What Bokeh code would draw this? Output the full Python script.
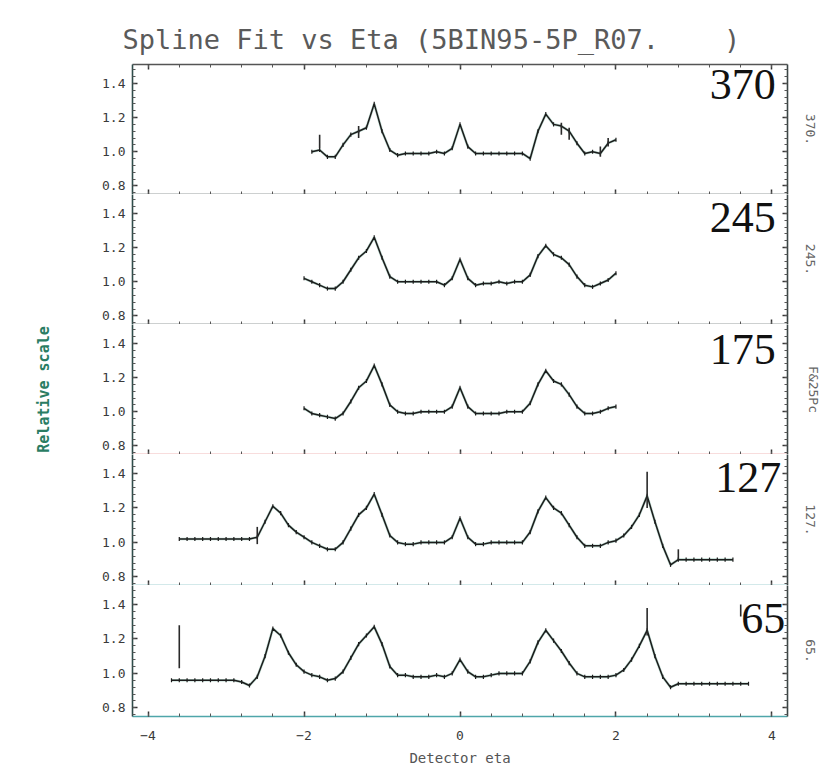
from bokeh.plotting import figure
from bokeh.models import (LinearAxis, Range1d, Label, SingleIntervalTicker,
                          PrintfTickFormatter, ColumnDataSource)
from bokeh.layouts import column
from bokeh.embed import file_html
from bokeh.resources import INLINE

# ---- relative scale vs detector eta, one series per bin ----
eta_370 = [-1.9, -1.8, -1.7, -1.6, -1.5, -1.4, -1.3, -1.2, -1.1, -1.0,
           -0.9, -0.8, -0.7, -0.6, -0.5, -0.4, -0.3, -0.2, -0.1, 0.0,
           0.1, 0.2, 0.3, 0.4, 0.5, 0.6, 0.7, 0.8, 0.9, 1.0,
           1.1, 1.2, 1.3, 1.4, 1.5, 1.6, 1.7, 1.8, 1.9, 2.0]
rel_370 = [1.00, 1.01, 0.97, 0.97, 1.04, 1.10, 1.12, 1.14, 1.28, 1.12,
           1.01, 0.98, 0.99, 0.99, 0.99, 0.99, 1.00, 0.99, 1.02, 1.16,
           1.03, 0.99, 0.99, 0.99, 0.99, 0.99, 0.99, 0.99, 0.96, 1.12,
           1.22, 1.16, 1.15, 1.12, 1.05, 0.99, 1.00, 0.99, 1.05, 1.07]

eta_245 = [-2.0, -1.9, -1.8, -1.7, -1.6, -1.5, -1.4, -1.3, -1.2, -1.1,
           -1.0, -0.9, -0.8, -0.7, -0.6, -0.5, -0.4, -0.3, -0.2, -0.1,
           0.0, 0.1, 0.2, 0.3, 0.4, 0.5, 0.6, 0.7, 0.8, 0.9,
           1.0, 1.1, 1.2, 1.3, 1.4, 1.5, 1.6, 1.7, 1.8, 1.9, 2.0]
rel_245 = [1.02, 1.00, 0.98, 0.96, 0.96, 1.00, 1.07, 1.14, 1.18, 1.26,
           1.14, 1.03, 1.00, 1.00, 1.00, 1.00, 1.00, 1.00, 0.98, 1.02,
           1.13, 1.02, 0.98, 0.99, 0.99, 1.00, 0.99, 1.00, 1.00, 1.04,
           1.15, 1.21, 1.16, 1.14, 1.10, 1.03, 0.98, 0.97, 0.99, 1.01, 1.05]

eta_175 = list(eta_245)
rel_175 = [1.02, 0.99, 0.98, 0.97, 0.96, 0.99, 1.06, 1.14, 1.18, 1.27,
           1.16, 1.04, 1.00, 0.99, 0.99, 1.00, 1.00, 1.00, 1.00, 1.03,
           1.14, 1.03, 0.99, 0.99, 0.99, 0.99, 1.00, 1.00, 1.00, 1.05,
           1.16, 1.24, 1.18, 1.16, 1.10, 1.03, 0.99, 0.99, 1.00, 1.02, 1.03]

eta_127 = [-3.6, -3.5, -3.4, -3.3, -3.2, -3.1, -3.0, -2.9, -2.8, -2.7,
           -2.6, -2.5, -2.4, -2.3, -2.2, -2.1, -2.0, -1.9, -1.8, -1.7,
           -1.6, -1.5, -1.4, -1.3, -1.2, -1.1, -1.0, -0.9, -0.8, -0.7,
           -0.6, -0.5, -0.4, -0.3, -0.2, -0.1, 0.0, 0.1, 0.2, 0.3,
           0.4, 0.5, 0.6, 0.7, 0.8, 0.9, 1.0, 1.1, 1.2, 1.3,
           1.4, 1.5, 1.6, 1.7, 1.8, 1.9, 2.0, 2.1, 2.2, 2.3,
           2.4, 2.5, 2.6, 2.7, 2.8, 2.9, 3.0, 3.1, 3.2, 3.3, 3.4, 3.5]
rel_127 = [1.02, 1.02, 1.02, 1.02, 1.02, 1.02, 1.02, 1.02, 1.02, 1.02,
           1.03, 1.12, 1.21, 1.17, 1.10, 1.06, 1.03, 1.00, 0.98, 0.96,
           0.96, 1.00, 1.08, 1.16, 1.20, 1.28, 1.16, 1.04, 1.00, 0.99,
           0.99, 1.00, 1.00, 1.00, 1.00, 1.03, 1.14, 1.03, 0.99, 0.99,
           1.00, 1.00, 1.00, 1.00, 1.00, 1.06, 1.18, 1.26, 1.20, 1.17,
           1.10, 1.03, 0.98, 0.98, 0.98, 1.00, 1.01, 1.04, 1.09, 1.16,
           1.27, 1.12, 0.98, 0.87, 0.90, 0.90, 0.90, 0.90, 0.90, 0.90, 0.90, 0.90]

eta_65 = [-3.7, -3.6, -3.5, -3.4, -3.3, -3.2, -3.1, -3.0, -2.9, -2.8,
          -2.7, -2.6, -2.5, -2.4, -2.3, -2.2, -2.1, -2.0, -1.9, -1.8,
          -1.7, -1.6, -1.5, -1.4, -1.3, -1.2, -1.1, -1.0, -0.9, -0.8,
          -0.7, -0.6, -0.5, -0.4, -0.3, -0.2, -0.1, 0.0, 0.1, 0.2,
          0.3, 0.4, 0.5, 0.6, 0.7, 0.8, 0.9, 1.0, 1.1, 1.2,
          1.3, 1.4, 1.5, 1.6, 1.7, 1.8, 1.9, 2.0, 2.1, 2.2,
          2.3, 2.4, 2.5, 2.6, 2.7, 2.8, 2.9, 3.0, 3.1, 3.2,
          3.3, 3.4, 3.5, 3.6, 3.7]
rel_65 = [0.96, 0.96, 0.96, 0.96, 0.96, 0.96, 0.96, 0.96, 0.96, 0.95,
          0.93, 0.98, 1.10, 1.26, 1.22, 1.12, 1.05, 1.01, 0.99, 0.98,
          0.96, 0.97, 1.01, 1.09, 1.17, 1.22, 1.27, 1.17, 1.04, 0.99,
          0.99, 0.98, 0.98, 0.98, 0.99, 0.98, 1.00, 1.08, 1.01, 0.98,
          0.98, 0.99, 1.00, 1.00, 1.00, 1.00, 1.07, 1.18, 1.25, 1.19,
          1.13, 1.06, 1.00, 0.98, 0.98, 0.98, 0.98, 0.99, 1.02, 1.08,
          1.16, 1.25, 1.10, 0.98, 0.92, 0.94, 0.94, 0.94, 0.94, 0.94,
          0.94, 0.94, 0.94, 0.94, 0.94]

# large error bars (eta, low, high)
err_370 = [(-1.8, 1.02, 1.10), (-1.3, 1.08, 1.15), (1.3, 1.10, 1.17),
           (1.4, 1.07, 1.14), (1.8, 0.97, 1.03), (1.9, 1.03, 1.08)]
err_245 = []
err_175 = []
err_127 = [(-2.6, 0.99, 1.09), (2.4, 1.20, 1.41), (2.8, 0.90, 0.96)]
err_65 = [(-3.6, 1.03, 1.28), (2.4, 1.22, 1.38), (3.6, 1.33, 1.40)]

bins = ["370", "245", "175", "127", "65"]
side_labels = ["370.", "245.", "F&25Pc", "127.", "65."]
series = [(eta_370, rel_370, err_370), (eta_245, rel_245, err_245),
          (eta_175, rel_175, err_175), (eta_127, rel_127, err_127),
          (eta_65, rel_65, err_65)]

FRAME_W = 655
frame_heights = [130, 130, 130, 131, 131]
bottom_colors = ["#3b4545", "#3b4545", "#e27878", "#4fa6aa", "#4fa6aa"]
number_pos = [(4.05, 1.48), (4.05, 1.46), (4.05, 1.45), (4.12, 1.46), (4.17, 1.40)]
MONO = "DejaVu Sans Mono"
NBSP = "\u00a0"


def hide_labels(ax):
    # keep the ticks, do not draw tick labels
    ax.major_label_text_font_size = "1px"
    ax.major_label_text_color = None
    ax.major_label_standoff = 0


x_range = Range1d(-4.2, 4.2)
figs = []
for i, ((eta, rel, errs), name) in enumerate(zip(series, bins)):
    last = i == len(bins) - 1
    p = figure(frame_width=FRAME_W, frame_height=frame_heights[i],
               x_range=x_range, y_range=Range1d(0.75, 1.51),
               output_backend="svg", toolbar_location=None,
               x_axis_location=None, y_axis_location=None,
               min_border_left=132, min_border_right=39,
               min_border_top=64 if i == 0 else 0,
               min_border_bottom=55 if last else 0,
               background_fill_color="white", border_fill_color="white",
               outline_line_color=None)
    p.xgrid.visible = False
    p.ygrid.visible = False

    la = LinearAxis(ticker=SingleIntervalTicker(interval=0.2, num_minor_ticks=5),
                    formatter=PrintfTickFormatter(format="%.1f"))
    ra = LinearAxis(ticker=SingleIntervalTicker(interval=0.2, num_minor_ticks=5),
                    axis_label=side_labels[i])
    ba = LinearAxis(ticker=SingleIntervalTicker(interval=2, num_minor_ticks=5))
    axes = [(la, "left"), (ra, "right"), (ba, "below")]
    ta = None
    if i == 0:
        ta = LinearAxis(ticker=SingleIntervalTicker(interval=2, num_minor_ticks=5))
        axes.append((ta, "above"))
    for ax, side in axes:
        ax.major_tick_in = 5
        ax.major_tick_out = 0
        ax.minor_tick_in = 3
        ax.minor_tick_out = 0
        ax.axis_line_width = 1.6
        ax.axis_line_color = "#3b4545"
        ax.major_tick_line_color = "#333333"
        ax.minor_tick_line_color = "#555555"
        ax.major_tick_line_width = 1.5
        ax.major_label_text_font = MONO
        ax.major_label_text_font_size = "13px"
        ax.major_label_text_color = "#3a3a3a"
        p.add_layout(ax, side)
    la.axis_line_color = "#2f4c4a"
    la.major_label_standoff = 7
    ba.axis_line_color = bottom_colors[i]
    hide_labels(ra)
    if ta is not None:
        hide_labels(ta)
        ta.axis_line_color = "#555555"
    if not last:
        hide_labels(ba)
    ra.axis_label_text_font = MONO
    ra.axis_label_text_font_size = "13px"
    ra.axis_label_text_color = "#666666"
    ra.axis_label_text_font_style = "normal"
    ra.axis_label_standoff = 18
    if last:
        ba.major_label_standoff = 14
        ba.axis_label = "Detector eta"
        ba.axis_label_text_font = MONO
        ba.axis_label_text_font_size = "14px"
        ba.axis_label_text_font_style = "normal"
        ba.axis_label_text_color = "#555555"
        ba.axis_label_standoff = 7
    if i == 2:
        la.axis_label = "Relative scale"
        la.axis_label_text_font = MONO
        la.axis_label_text_font_size = "15px"
        la.axis_label_text_font_style = "bold"
        la.axis_label_text_color = "#2a7d63"
        la.axis_label_standoff = 46

    # spline curve and point markers
    tick_h = 0.012
    src = ColumnDataSource(dict(eta=eta, rel=rel,
                                lo=[v - tick_h for v in rel],
                                hi=[v + tick_h for v in rel]))
    p.line("eta", "rel", source=src, line_color="#3a8f74", line_width=2.6, line_alpha=0.35)
    p.line("eta", "rel", source=src, line_color="#1c1c1c", line_width=1.5)
    p.segment(x0="eta", y0="lo", x1="eta", y1="hi", source=src,
              line_color="#1c1c1c", line_width=1.2)
    if errs:
        p.segment(x0=[e[0] for e in errs], y0=[e[1] for e in errs],
                  x1=[e[0] for e in errs], y1=[e[2] for e in errs],
                  line_color="#2a2a2a", line_width=1.6)

    nx, ny = number_pos[i]
    p.add_layout(Label(x=nx, y=ny, text=name, text_align="right",
                       text_baseline="top", text_font="Liberation Serif",
                       text_font_size="44px", text_color="#111111"))

    if i == 0:
        p.title.text = "Spline Fit vs Eta (5BIN95-5P_R07." + NBSP * 4 + ")"
        p.title.text_font = MONO
        p.title.text_font_size = "27px"
        p.title.text_font_style = "normal"
        p.title.text_color = "#5a5a5a"
        p.title.align = "left"
        p.title.offset = -10
        p.title.standoff = 20
    figs.append(p)

layout = column(*figs, spacing=0)
open("out.html", "w").write(file_html(layout, INLINE))
